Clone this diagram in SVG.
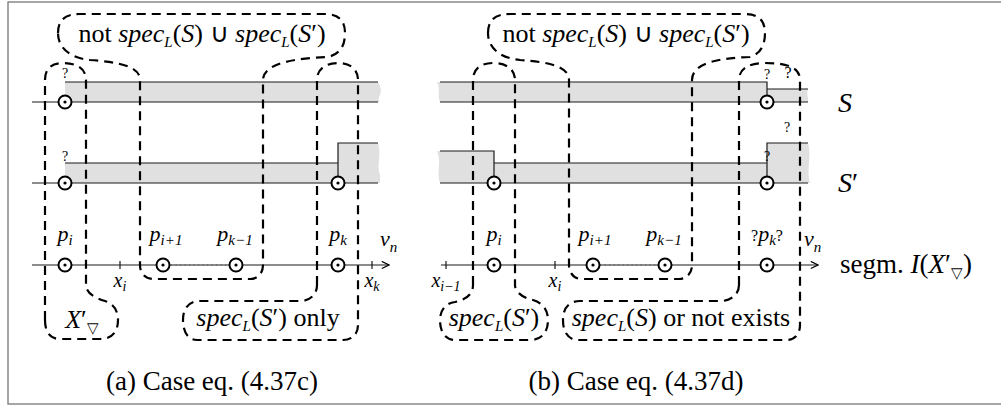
<svg xmlns="http://www.w3.org/2000/svg" width="1001" height="408" viewBox="0 0 1001 408" font-family="'Liberation Serif', 'Times New Roman', serif">
<defs>
<marker id="arr" viewBox="0 0 10 10" refX="9" refY="5" markerWidth="9" markerHeight="9" markerUnits="userSpaceOnUse" orient="auto"><path d="M1,1 L9,5 L1,9" fill="none" stroke="#000" stroke-width="1.3"/></marker>
<style>
.gray{fill:#e0e0e0;stroke:none}
.ln{stroke:#1a1a1a;stroke-width:1.2;fill:none}
.dash{fill:none;stroke:#000;stroke-width:2.2;stroke-dasharray:9 6}
.pt circle.o{fill:#fff;stroke:#000;stroke-width:2}
.pt circle.d{fill:#000}
.dot{stroke:#555;stroke-width:1.2;stroke-dasharray:1.2 3.3;fill:none}
text{fill:#000}
.big{font-size:26px}
.cap{font-size:27px}
.lab{font-size:22px;font-style:italic}
.sub{font-size:15px}
.q{font-size:14px}
.it{font-style:italic}
</style>
</defs>
<rect x="8" y="2" width="1000" height="402" fill="#fff" stroke="#777" stroke-width="1.3"/>

<g id="panel-a">
<g id="rowS-a">
<path class="gray" d="M65,82 H378 C381,87 382,92 379,97 C378,99 379,101 380,102 H65 Z"/>
<path class="ln" d="M65,82 H378 M32,102 H378"/>
<g class="pt"><circle class="o" cx="65" cy="102" r="6.5"/><circle class="d" cx="65" cy="102" r="1.6"/></g>
<text class="q" x="65" y="78" text-anchor="middle">?</text>
</g>
<g id="rowS2-a">
<path class="gray" d="M65,163 H338 V143 H378 C382,155 376,165 380,175 L380,183 H65 Z"/>
<path class="ln" d="M65,163 H338 M338,183 V143 H378 M32,183 H378"/>
<g class="pt"><circle class="o" cx="65" cy="183" r="6.5"/><circle class="d" cx="65" cy="183" r="1.6"/></g>
<g class="pt"><circle class="o" cx="338" cy="183" r="6.5"/><circle class="d" cx="338" cy="183" r="1.6"/></g>
<text class="q" x="65" y="161" text-anchor="middle">?</text>
</g>
<g id="axis-a">
<path class="ln" d="M32,265 H389" marker-end="url(#arr)"/>
<path class="ln" d="M120,261 V269 M372,261 V269"/>
<path class="dot" d="M171,265 H229"/>
<g class="pt"><circle class="o" cx="65" cy="265" r="6.5"/><circle class="d" cx="65" cy="265" r="1.6"/></g>
<g class="pt"><circle class="o" cx="163" cy="265" r="6.5"/><circle class="d" cx="163" cy="265" r="1.6"/></g>
<g class="pt"><circle class="o" cx="236" cy="265" r="6.5"/><circle class="d" cx="236" cy="265" r="1.6"/></g>
<g class="pt"><circle class="o" cx="338" cy="265" r="6.5"/><circle class="d" cx="338" cy="265" r="1.6"/></g>
<text class="lab" x="65" y="241" text-anchor="middle">p<tspan class="sub" dy="4">i</tspan></text>
<text class="lab" x="166" y="241" text-anchor="middle">p<tspan class="sub" dy="4">i+1</tspan></text>
<text class="lab" x="235" y="241" text-anchor="middle">p<tspan class="sub" dy="4">k−1</tspan></text>
<text class="lab" x="338" y="241" text-anchor="middle">p<tspan class="sub" dy="4">k</tspan></text>
<text class="lab" x="380" y="246">v<tspan class="sub" dy="6">n</tspan></text>
<text class="lab" x="120" y="287" text-anchor="middle" style="font-size:20px">x<tspan class="sub" style="font-size:14px" dy="4">i</tspan></text>
<text class="lab" x="372" y="287" text-anchor="middle" style="font-size:20px">x<tspan class="sub" style="font-size:14px" dy="4">k</tspan></text>
</g>
<g id="regions-a">
<path class="dash" d="M45,320 V80 C45,68 52,63 63,63 C76,63 86,68 86,80 V285 C86,293 95,298 105,301 C114,304 118,311 118,320 C118,333 111,339 100,339 H60 C50,339 45,332 45,320 Z"/>
<path class="dash" d="M58,33 C58,20 65,14 80,14 H325 C339,14 345,21 345,33 C345,46 340,54 328,57 C300,58 263,62 263,80 V265 C263,273 258,279 250,279 H153 C145,279 140,273 140,265 V80 C140,66 118,62 90,60 C70,58 58,48 58,33 Z"/>
<path class="dash" d="M317,285 V80 C317,68 327,63 338,63 C350,63 358,69 358,80 V325 C358,334 352,340 343,340 H197 C188,340 183,332 183,320 C183,308 189,301 200,301 H302 C311,300 317,294 317,285 Z"/>
</g>
<text class="big" x="202" y="42" text-anchor="middle">not <tspan class="it">spec</tspan><tspan class="it sub" dy="5">L</tspan><tspan dy="-5">(</tspan><tspan class="it">S</tspan>) ∪ <tspan class="it">spec</tspan><tspan class="it sub" dy="5">L</tspan><tspan dy="-5">(</tspan><tspan class="it">S</tspan>′)</text>
<text class="big" x="82" y="328" text-anchor="middle"><tspan class="it">X</tspan>′<tspan class="sub" dy="5">▽</tspan></text>
<text class="big" x="268" y="326" text-anchor="middle"><tspan class="it">spec</tspan><tspan class="it sub" dy="5">L</tspan><tspan dy="-5">(</tspan><tspan class="it">S</tspan>′) only</text>
<text class="cap" x="212" y="390" text-anchor="middle">(a) Case eq. (4.37c)</text>
</g>

<g id="panel-b">
<g id="rowS-b">
<path class="gray" d="M440,82 H767 V89 H808 C806,94 809,98 808,102 H440 C437,96 441,90 437,82 Z"/>
<path class="ln" d="M440,82 H767 V89 H808 M440,102 H808 M767,82 V102"/>
<g class="pt"><circle class="o" cx="767" cy="102" r="6.5"/><circle class="d" cx="767" cy="102" r="1.6"/></g>
<text class="q" x="767" y="79" text-anchor="middle">?</text>
<text class="q" x="788" y="78" text-anchor="middle" style="font-size:16px">?</text>
<text class="q" x="787" y="132" text-anchor="middle">?</text>
</g>
<g id="rowS2-b">
<path class="gray" d="M440,151 H494 V163 H767 V143 H808 C812,155 806,170 810,183 H440 C436,172 442,162 437,151 Z"/>
<path class="ln" d="M440,151 H494 V183 M494,163 H767 M767,183 V143 H808 M440,183 H808"/>
<g class="pt"><circle class="o" cx="494" cy="183" r="6.5"/><circle class="d" cx="494" cy="183" r="1.6"/></g>
<g class="pt"><circle class="o" cx="767" cy="183" r="6.5"/><circle class="d" cx="767" cy="183" r="1.6"/></g>
<text class="q" x="767" y="161" text-anchor="middle">?</text>
</g>
<g id="axis-b">
<path class="ln" d="M441,265 H818" marker-end="url(#arr)"/>
<path class="ln" d="M446,261 V269 M555,261 V269"/>
<path class="dot" d="M600,265 H658"/>
<g class="pt"><circle class="o" cx="494" cy="265" r="6.5"/><circle class="d" cx="494" cy="265" r="1.6"/></g>
<g class="pt"><circle class="o" cx="593" cy="265" r="6.5"/><circle class="d" cx="593" cy="265" r="1.6"/></g>
<g class="pt"><circle class="o" cx="665" cy="265" r="6.5"/><circle class="d" cx="665" cy="265" r="1.6"/></g>
<g class="pt"><circle class="o" cx="767" cy="265" r="6.5"/><circle class="d" cx="767" cy="265" r="1.6"/></g>
<text class="lab" x="494" y="241" text-anchor="middle">p<tspan class="sub" dy="4">i</tspan></text>
<text class="lab" x="595" y="241" text-anchor="middle">p<tspan class="sub" dy="4">i+1</tspan></text>
<text class="lab" x="664" y="241" text-anchor="middle">p<tspan class="sub" dy="4">k−1</tspan></text>
<text class="lab" x="767" y="241" text-anchor="middle"><tspan style="font-style:normal;font-size:16px">?</tspan>p<tspan class="sub" dy="4">k</tspan><tspan style="font-style:normal;font-size:16px" dy="-4">?</tspan></text>
<text class="lab" x="804" y="246">v<tspan class="sub" dy="6">n</tspan></text>
<text class="lab" x="446" y="287" text-anchor="middle" style="font-size:20px">x<tspan class="sub" style="font-size:14px" dy="4">i−1</tspan></text>
<text class="lab" x="555" y="287" text-anchor="middle" style="font-size:20px">x<tspan class="sub" style="font-size:14px" dy="4">i</tspan></text>
</g>
<g id="regions-b">
<path class="dash" d="M473,285 V80 C473,68 482,63 493,63 C506,63 515,69 515,80 V285 C515,292 523,298 533,300 C543,303 548,310 548,320 C548,333 541,340 530,340 H455 C446,340 440,333 440,320 C440,310 446,303 455,302 C465,300 473,295 473,285 Z"/>
<path class="dash" d="M488,33 C488,20 495,14 510,14 H745 C759,14 765,21 765,33 C765,46 760,54 750,57 C722,58 692,62 692,80 V265 C692,273 687,279 679,279 H582 C574,279 569,273 569,265 V80 C569,66 548,62 520,60 C500,58 488,48 488,33 Z"/>
<path class="dash" d="M739,285 V80 C739,68 750,63 765,63 C786,63 800,67 800,80 V325 C800,334 795,340 786,340 H578 C569,340 563,333 563,320 C563,308 569,301 580,301 H722 C732,300 739,294 739,285 Z"/>
</g>
<text class="big" x="626" y="42" text-anchor="middle">not <tspan class="it">spec</tspan><tspan class="it sub" dy="5">L</tspan><tspan dy="-5">(</tspan><tspan class="it">S</tspan>) ∪ <tspan class="it">spec</tspan><tspan class="it sub" dy="5">L</tspan><tspan dy="-5">(</tspan><tspan class="it">S</tspan>′)</text>
<text class="big" x="494" y="326" text-anchor="middle"><tspan class="it">spec</tspan><tspan class="it sub" dy="5">L</tspan><tspan dy="-5">(</tspan><tspan class="it">S</tspan>′)</text>
<text class="big" x="681" y="326" text-anchor="middle"><tspan class="it">spec</tspan><tspan class="it sub" dy="5">L</tspan><tspan dy="-5">(</tspan><tspan class="it">S</tspan>) or not exists</text>
<text class="cap" x="636" y="390" text-anchor="middle">(b) Case eq. (4.37d)</text>
</g>

<g id="side-labels">
<text class="it" x="838" y="112" style="font-size:28px">S</text>
<text class="it" x="838" y="192" style="font-size:28px">S<tspan style="font-style:normal">′</tspan></text>
<text x="840" y="273" style="font-size:27px">segm. <tspan class="it">I</tspan>(<tspan class="it">X</tspan>′<tspan class="sub" dy="5">▽</tspan><tspan dy="-5">)</tspan></text>
</g>
</svg>
